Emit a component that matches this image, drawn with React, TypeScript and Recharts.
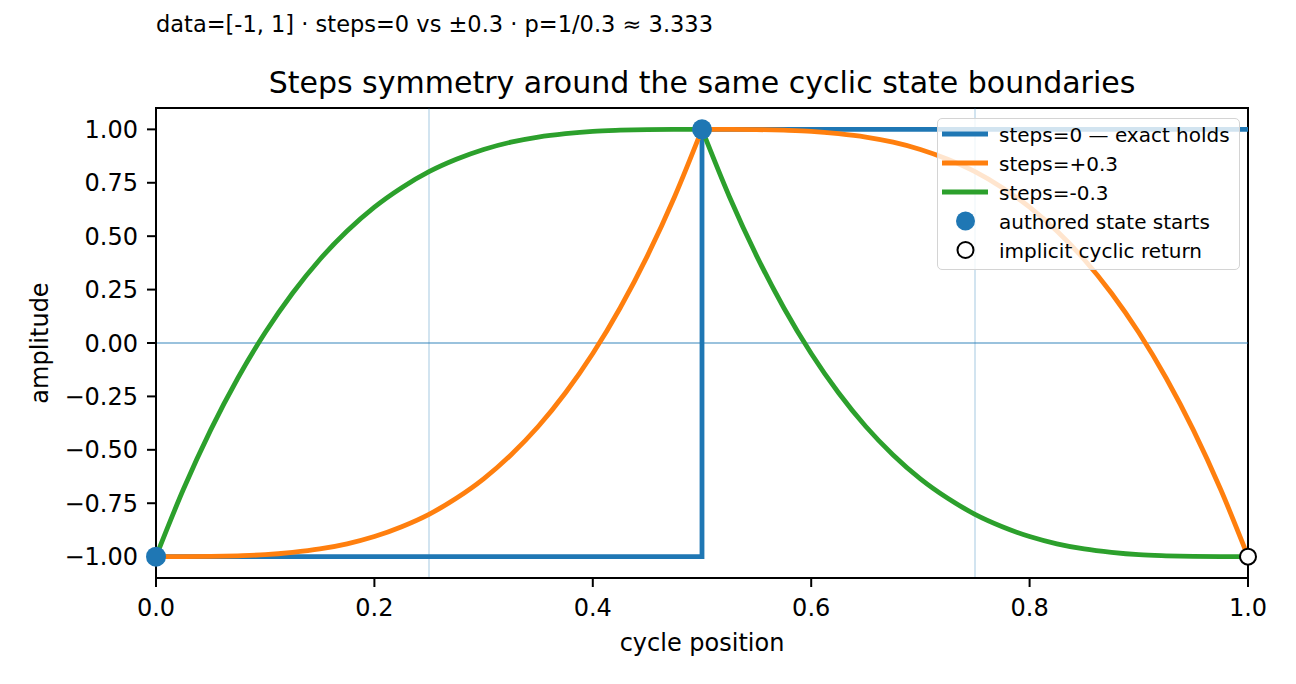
import React from 'react';
import {
  ComposedChart,
  Line,
  Scatter,
  XAxis,
  YAxis,
  ReferenceLine,
  ReferenceArea,
  Legend,
} from 'recharts';

// cycle positions of the first half (rise) and second half (fall)
const riseX = [0, 0.025, 0.05, 0.075, 0.1, 0.125, 0.15, 0.175, 0.2, 0.225, 0.25, 0.275, 0.3, 0.325, 0.35, 0.375, 0.4, 0.425, 0.45, 0.475, 0.5];
const fallX = [0.5, 0.525, 0.55, 0.575, 0.6, 0.625, 0.65, 0.675, 0.7, 0.725, 0.75, 0.775, 0.8, 0.825, 0.85, 0.875, 0.9, 0.925, 0.95, 0.975, 1];

// steps=+0.3 (orange)
const plusRise = [-1, -1.0, -0.999, -0.996, -0.991, -0.98, -0.964, -0.94, -0.906, -0.86, -0.802, -0.727, -0.636, -0.524, -0.391, -0.233, -0.049, 0.164, 0.408, 0.686, 1];
const plusFall = [1, 1.0, 0.999, 0.996, 0.991, 0.98, 0.964, 0.94, 0.906, 0.86, 0.802, 0.727, 0.636, 0.524, 0.391, 0.233, 0.049, -0.164, -0.408, -0.686, -1];

// steps=-0.3 (green)
const minusRise = [-1, -0.686, -0.408, -0.164, 0.049, 0.233, 0.391, 0.524, 0.636, 0.727, 0.802, 0.86, 0.906, 0.94, 0.964, 0.98, 0.991, 0.996, 0.999, 1.0, 1];
const minusFall = [1, 0.686, 0.408, 0.164, -0.049, -0.233, -0.391, -0.524, -0.636, -0.727, -0.802, -0.86, -0.906, -0.94, -0.964, -0.98, -0.991, -0.996, -0.999, -1.0, -1];

// steps=0 (blue) exact holds
const holdX = [0, 0.5, 0.5, 1];
const holdY = [-1, -1, 1, 1];

// markers
const authoredX = [0, 0.5];
const authoredY = [-1, 1];
const returnX = [1];
const returnY = [-1];

const xTicks = [0, 0.2, 0.4, 0.6, 0.8, 1.0];
const yTicks = [-1, -0.75, -0.5, -0.25, 0, 0.25, 0.5, 0.75, 1];
const vGuides = [0.25, 0.75];

const legendLabels = [
  'steps=0 — exact holds',
  'steps=+0.3',
  'steps=-0.3',
  'authored state starts',
  'implicit cyclic return',
];

const BLUE = '#1f77b4';
const ORANGE = '#ff7f0e';
const GREEN = '#2ca02c';
const FONT = '"DejaVu Sans", "Liberation Sans", sans-serif';
const LW = 4.8;

const zip = (xs: number[], ys: number[]) => xs.map((x, i) => ({ x, y: ys[i] }));

const holdData = zip(holdX, holdY);
const plusRiseData = zip(riseX, plusRise);
const plusFallData = zip(fallX, plusFall);
const minusRiseData = zip(riseX, minusRise);
const minusFallData = zip(fallX, minusFall);
const authoredData = zip(authoredX, authoredY);
const returnData = zip(returnX, returnY);

const fmtY = (v: number) => v.toFixed(2).replace('-', '\u2212');
const fmtX = (v: number) => v.toFixed(1);

const LegendBox = () => {
  const rowCenter = (i: number) => 14.5 + 29 * i;
  const kinds = ['line', 'line', 'line', 'dot', 'ring'];
  const colors = [BLUE, ORANGE, GREEN, BLUE, '#000'];
  return (
    <div
      style={{
        position: 'relative',
        boxSizing: 'border-box',
        width: 303,
        height: 152,
        border: '1.5px solid #d4d4d4',
        borderRadius: 5,
        background: 'rgba(255,255,255,0.8)',
        fontFamily: FONT,
      }}
    >
      {legendLabels.map((label, i) => (
        <React.Fragment key={label}>
          <svg
            width={50}
            height={26}
            style={{ position: 'absolute', left: 2, top: rowCenter(i) - 13 }}
          >
            {kinds[i] === 'line' && (
              <line x1={2} x2={48} y1={13} y2={13} stroke={colors[i]} strokeWidth={LW} />
            )}
            {kinds[i] === 'dot' && <circle cx={25.5} cy={13} r={9.5} fill={BLUE} />}
            {kinds[i] === 'ring' && (
              <circle cx={25.5} cy={13} r={8} fill="#fff" stroke="#000" strokeWidth={2} />
            )}
          </svg>
          <div
            style={{
              position: 'absolute',
              left: 61,
              top: rowCenter(i) - 9,
              fontSize: 20,
              lineHeight: '20px',
              color: '#000',
              whiteSpace: 'nowrap',
            }}
          >
            {label}
          </div>
        </React.Fragment>
      ))}
    </div>
  );
};

const axisTick = { fill: '#000', fontSize: 24, fontFamily: FONT };

export default function App() {
  return (
    <div
      style={{
        position: 'absolute',
        left: 0,
        top: 0,
        width: 1296,
        height: 684,
        background: '#fff',
        fontFamily: FONT,
      }}
    >
      <ComposedChart
        width={1296}
        height={684}
        margin={{ top: 108, right: 48, bottom: 50, left: 20 }}
        style={{ fontFamily: FONT }}
      >
        <XAxis
          dataKey="x"
          type="number"
          domain={[0, 1]}
          ticks={xTicks}
          interval={0}
          tickFormatter={fmtX}
          height={56}
          tickSize={9}
          tickMargin={12}
          tick={axisTick}
          axisLine={{ stroke: '#000', strokeWidth: 2 }}
          tickLine={{ stroke: '#000', strokeWidth: 2 }}
          label={{ value: 'cycle position', position: 'bottom', offset: 0, fill: '#000', fontSize: 24, fontFamily: FONT }}
        />
        <YAxis
          dataKey="y"
          type="number"
          domain={[-1.1, 1.1]}
          ticks={yTicks}
          interval={0}
          tickFormatter={fmtY}
          width={136}
          tickSize={9}
          tickMargin={9}
          tick={axisTick}
          axisLine={{ stroke: '#000', strokeWidth: 2 }}
          tickLine={{ stroke: '#000', strokeWidth: 2 }}
          label={{
            value: 'amplitude',
            angle: -90,
            position: 'insideLeft',
            offset: 19,
            fill: '#000',
            fontSize: 24,
            fontFamily: FONT,
            style: { textAnchor: 'middle' },
          }}
        />
        {vGuides.map((g) => (
          <ReferenceLine key={g} x={g} stroke={BLUE} strokeOpacity={0.2} strokeWidth={2} />
        ))}
        <ReferenceLine y={0} stroke={BLUE} strokeOpacity={0.45} strokeWidth={2} />
        <Line data={holdData} dataKey="y" type="linear" stroke={BLUE} strokeWidth={LW} dot={false} activeDot={false} isAnimationActive={false} />
        <Line data={plusRiseData} dataKey="y" type="monotone" stroke={ORANGE} strokeWidth={LW} dot={false} activeDot={false} isAnimationActive={false} />
        <Line data={plusFallData} dataKey="y" type="monotone" stroke={ORANGE} strokeWidth={LW} dot={false} activeDot={false} isAnimationActive={false} />
        <Line data={minusRiseData} dataKey="y" type="monotone" stroke={GREEN} strokeWidth={LW} dot={false} activeDot={false} isAnimationActive={false} />
        <Line data={minusFallData} dataKey="y" type="monotone" stroke={GREEN} strokeWidth={LW} dot={false} activeDot={false} isAnimationActive={false} />
        <ReferenceArea x1={0} x2={1} y1={-1.1} y2={1.1} fill="none" stroke="#000" strokeWidth={2} />
        <Scatter
          data={authoredData}
          dataKey="y"
          isAnimationActive={false}
          shape={(p: any) => <circle cx={p.cx} cy={p.cy} r={10} fill={BLUE} />}
        />
        <Scatter
          data={returnData}
          dataKey="y"
          isAnimationActive={false}
          shape={(p: any) => <circle cx={p.cx} cy={p.cy} r={8} fill="#fff" stroke="#000" strokeWidth={2} />}
        />
        <Legend
          layout="horizontal"
          verticalAlign="middle"
          align="center"
          wrapperStyle={{ left: 937, top: 118, width: 303, height: 152 }}
          content={() => <LegendBox />}
        />
      </ComposedChart>
      <div
        style={{
          position: 'absolute',
          left: 156,
          top: 13,
          fontSize: 22.5,
          lineHeight: 1,
          color: '#000',
          whiteSpace: 'nowrap',
        }}
      >
        data=[-1, 1] · steps=0 vs ±0.3 · p=1/0.3 ≈ 3.333
      </div>
      <div
        style={{
          position: 'absolute',
          left: 156,
          width: 1092,
          top: 68,
          fontSize: 30,
          lineHeight: 1,
          textAlign: 'center',
          color: '#000',
          whiteSpace: 'nowrap',
        }}
      >
        Steps symmetry around the same cyclic state boundaries
      </div>
    </div>
  );
}
